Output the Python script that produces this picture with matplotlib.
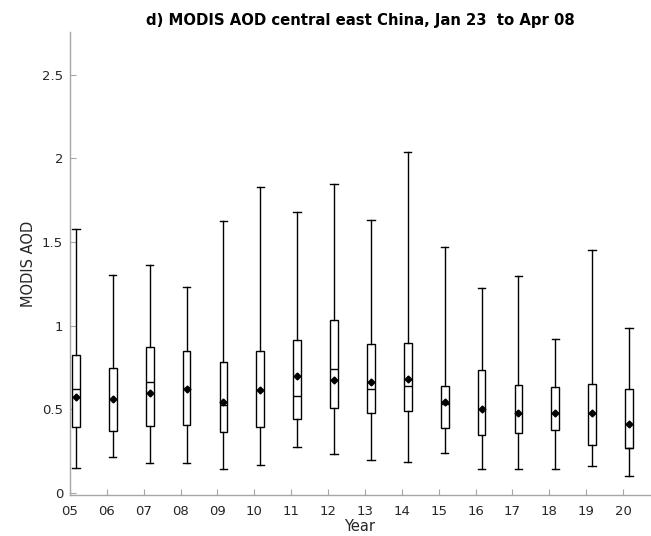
import matplotlib
matplotlib.use("Agg")
import matplotlib.pyplot as plt
import numpy as np

# values (MODIS AOD per year)
years = ["05", "06", "07", "08", "09", "10", "11", "12",
         "13", "14", "15", "16", "17", "18", "19", "20"]
whislo = [0.151, 0.213, 0.181, 0.179, 0.143, 0.169, 0.275, 0.233,
          0.197, 0.185, 0.237, 0.142, 0.145, 0.145, 0.160, 0.099]
q1 = [0.395, 0.371, 0.399, 0.409, 0.367, 0.395, 0.442, 0.510,
      0.477, 0.491, 0.387, 0.349, 0.357, 0.375, 0.285, 0.266]
med = [0.622, 0.562, 0.666, 0.627, 0.526, 0.616, 0.578, 0.743,
       0.619, 0.640, 0.534, 0.500, 0.480, 0.476, 0.480, 0.268]
q3 = [0.822, 0.749, 0.874, 0.847, 0.783, 0.849, 0.914, 1.034,
      0.893, 0.896, 0.639, 0.735, 0.646, 0.634, 0.654, 0.624]
whishi = [1.578, 1.301, 1.363, 1.234, 1.628, 1.827, 1.681, 1.847,
          1.634, 2.038, 1.470, 1.228, 1.300, 0.922, 1.455, 0.988]
means = [0.572, 0.562, 0.596, 0.622, 0.546, 0.616, 0.702, 0.675,
         0.664, 0.683, 0.541, 0.500, 0.480, 0.476, 0.480, 0.410]

stats = []
for i in range(len(years)):
    stats.append({"whislo": whislo[i], "q1": q1[i], "med": med[i],
                  "q3": q3[i], "whishi": whishi[i], "mean": means[i],
                  "fliers": []})

fig = plt.figure(figsize=(6.51, 5.36), dpi=100)
ax = fig.add_axes([0.1075, 0.0765, 0.891, 0.8635])

ticks = np.arange(1, len(years) + 1)
pos = ticks + 0.16

lw = 1.0
ax.bxp(stats, positions=pos, widths=0.21, capwidths=0.2,
       showmeans=True, showfliers=False, patch_artist=True,
       boxprops=dict(facecolor="white", edgecolor="black", linewidth=lw),
       medianprops=dict(color="black", linewidth=lw),
       whiskerprops=dict(color="black", linewidth=lw),
       capprops=dict(color="black", linewidth=lw),
       meanprops=dict(marker="D", markerfacecolor="black",
                      markeredgecolor="black", markersize=3.5))

ax.set_xlim(1, 16.73)
ax.set_ylim(-0.012, 2.755)
ax.set_xticks(ticks)
ax.set_xticklabels(years)
ax.set_yticks([0, 0.5, 1, 1.5, 2, 2.5])
ax.set_yticklabels(["0", "0.5", "1", "1.5", "2", "2.5"])

for s in ["top", "right"]:
    ax.spines[s].set_visible(False)
for s in ["left", "bottom"]:
    ax.spines[s].set_color("#a6a6a6")
    ax.spines[s].set_linewidth(1.0)
ax.tick_params(direction="in", length=4, width=0.8, color="#a6a6a6",
               labelcolor="#262626", labelsize=9.5)
ax.tick_params(axis="x", pad=7)
ax.tick_params(axis="y", pad=5)

ax.set_xlabel("Year", fontsize=10.5, color="#262626", labelpad=1)
ax.set_ylabel("MODIS AOD", fontsize=10.5, color="#262626", labelpad=4)
ax.set_title("d) MODIS AOD central east China, Jan 23  to Apr 08",
             fontsize=10.7, fontweight="bold", pad=5)

fig.savefig("out.png", dpi=100)
